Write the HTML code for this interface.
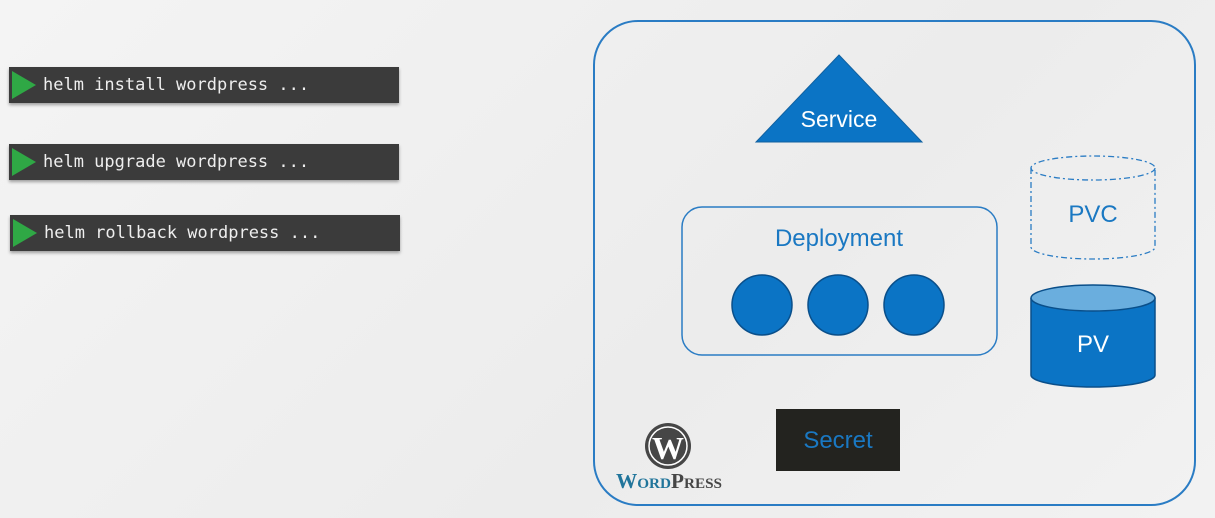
<!DOCTYPE html>
<html><head><meta charset="utf-8"><style>
html,body{margin:0;padding:0;width:1215px;height:518px;overflow:hidden;background:linear-gradient(135deg,#f4f4f4,#ececec 60%,#f2f2f2);}
.cmd{position:absolute;left:9px;width:390px;height:36px;background:#3b3b3b;box-shadow:0 2px 3px rgba(0,0,0,.35);}
.cmd .tri{position:absolute;left:3px;top:4px;width:0;height:0;border-top:14px solid transparent;border-bottom:14px solid transparent;border-left:24px solid #2fa845;}
.cmd span{position:absolute;left:34px;top:8px;font:17px "DejaVu Sans Mono","Liberation Mono",monospace;color:#eee;white-space:pre;}
</style></head><body>
<div class="cmd" style="top:67px"><div class="tri"></div><span>helm install wordpress ...</span></div>
<div class="cmd" style="top:144px"><div class="tri"></div><span>helm upgrade wordpress ...</span></div>
<div class="cmd" style="top:215px;left:10px"><div class="tri"></div><span style="left:34px">helm rollback wordpress ...</span></div>
<svg width="1215" height="518" style="position:absolute;left:0;top:0" font-family="'Liberation Sans','DejaVu Sans',sans-serif">
<rect x="594" y="21" width="601" height="484" rx="44" fill="none" stroke="#2a7cc4" stroke-width="2"/>
<polygon points="839,55 756,142 922,142" fill="#0b74c5" stroke="#1161a0" stroke-width="1"/>
<text x="839" y="127" font-size="23" fill="#fff" text-anchor="middle">Service</text>
<rect x="682" y="207" width="315" height="148" rx="20" fill="none" stroke="#2a7cc4" stroke-width="1.5"/>
<text x="839" y="246" font-size="24" fill="#1a78c2" text-anchor="middle">Deployment</text>
<circle cx="762" cy="305" r="30" fill="#0b74c5" stroke="#0a4f8a" stroke-width="1.5"/>
<circle cx="838" cy="305" r="30" fill="#0b74c5" stroke="#0a4f8a" stroke-width="1.5"/>
<circle cx="914" cy="305" r="30" fill="#0b74c5" stroke="#0a4f8a" stroke-width="1.5"/>
<g fill="none" stroke="#2a7cc4" stroke-width="1.3" stroke-dasharray="6,3,2,3">
<ellipse cx="1093" cy="168" rx="62" ry="12"/>
<path d="M1031,168 V247 A62,12 0 0 0 1155,247 V168"/>
</g>
<text x="1093" y="222" font-size="24" fill="#1a78c2" text-anchor="middle">PVC</text>
<path d="M1031,298 V375 A62,12 0 0 0 1155,375 V298" fill="#0b74c5" stroke="#0a4f8a" stroke-width="1.5"/>
<ellipse cx="1093" cy="298" rx="62" ry="13" fill="#6aaede" stroke="#0a4f8a" stroke-width="1.5"/>
<text x="1093" y="352" font-size="24" fill="#fff" text-anchor="middle">PV</text>
<rect x="776" y="409" width="124" height="62" fill="#23231f"/>
<text x="838" y="448" font-size="24" fill="#1a78c2" text-anchor="middle">Secret</text>
<circle cx="668" cy="446" r="23" fill="#464646"/>
<circle cx="668" cy="446" r="19" fill="none" stroke="#fff" stroke-width="1.5"/>
<text x="668" y="459" font-size="32" font-family="'Liberation Serif',serif" font-weight="bold" fill="#fff" text-anchor="middle">W</text>
<text x="669" y="488" font-size="21" font-family="'Liberation Serif',serif" font-weight="bold" text-anchor="middle" textLength="106" lengthAdjust="spacingAndGlyphs"><tspan fill="#21759b">W</tspan><tspan fill="#21759b" font-size="15">ORD</tspan><tspan fill="#464646">P</tspan><tspan fill="#464646" font-size="15">RESS</tspan></text>
</svg>
</body></html>
